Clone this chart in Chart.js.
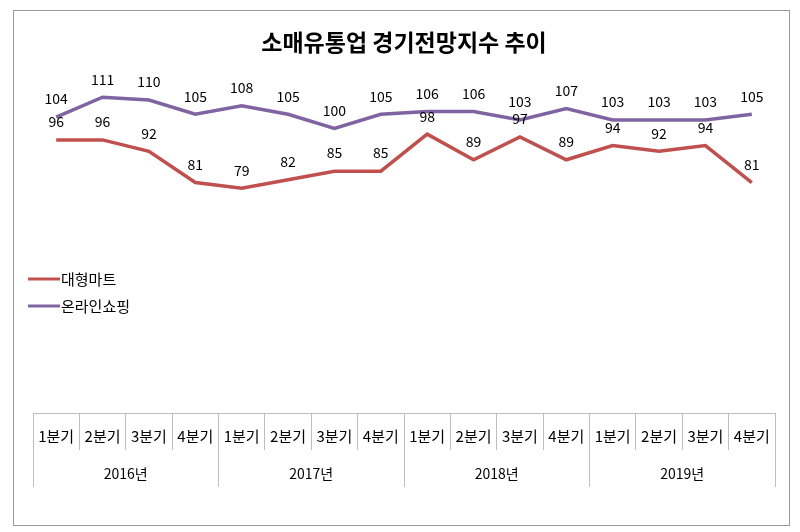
<!DOCTYPE html>
<html>
<head>
<meta charset="utf-8">
<script src="https://cdn.jsdelivr.net/npm/chart.js@4.4.0/dist/chart.umd.min.js"></script>
<style>
  html, body { margin: 0; padding: 0; background: #fff; }
  #wrap { width: 800px; height: 532px; }
</style>
</head>
<body>
<div id="wrap"><canvas id="retailChart" width="800" height="532"></canvas></div>
<script>
const quarters = ['1분기', '2분기', '3분기', '4분기', '1분기', '2분기', '3분기', '4분기',
                  '1분기', '2분기', '3분기', '4분기', '1분기', '2분기', '3분기', '4분기'];
const years = ['2016년', '2017년', '2018년', '2019년'];
const martValues = [96, 96, 92, 81, 79, 82, 85, 85, 98, 89, 97, 89, 94, 92, 94, 81];
const onlineValues = [104, 111, 110, 105, 108, 105, 100, 105, 106, 106, 103, 107, 103, 103, 103, 105];

const FONT = '"Noto Sans CJK KR", "Noto Sans", sans-serif';

// outer frame around the whole chart
const framePlugin = {
    id: 'frame',
    beforeDraw(chart) {
        const c = chart.ctx;
        c.save();
        c.strokeStyle = '#9a9a9a';
        c.lineWidth = 1;
        c.strokeRect(13.5, 10.5, 776, 515);
        c.restore();
    }
};

// value labels above each point
const valueLabels = {
    id: 'valueLabels',
    afterDatasetsDraw(chart) {
        const c = chart.ctx;
        c.save();
        c.font = '14px ' + FONT;
        c.fillStyle = '#000';
        c.textAlign = 'center';
        c.textBaseline = 'middle';
        chart.data.datasets.forEach((ds, i) => {
            chart.getDatasetMeta(i).data.forEach((pt, j) => {
                c.fillText(ds.data[j], pt.x, pt.y - 18);
            });
        });
        c.restore();
    }
};

// legend on the left, drawn over the plot like the original
const sideLegend = {
    id: 'sideLegend',
    afterDraw(chart) {
        const c = chart.ctx;
        c.save();
        c.font = '15px ' + FONT;
        c.textBaseline = 'middle';
        chart.data.datasets.forEach((ds, i) => {
            const y = 279 + i * 27;
            c.strokeStyle = ds.borderColor;
            c.lineWidth = 3;
            c.beginPath();
            c.moveTo(28, y);
            c.lineTo(60, y);
            c.stroke();
            c.fillStyle = '#000';
            c.fillText(ds.label, 61, y);
        });
        c.restore();
    }
};

const ctx = document.getElementById('retailChart').getContext('2d');
const chart = new Chart(ctx, {
    type: 'line',
    data: {
        labels: quarters,
        datasets: [{
            label: '대형마트',
            data: martValues,
            borderColor: '#C0504D',
            borderWidth: 3.5,
            pointRadius: 0,
            tension: 0
        }, {
            label: '온라인쇼핑',
            data: onlineValues,
            borderColor: '#8064A2',
            borderWidth: 3.5,
            pointRadius: 0,
            tension: 0
        }]
    },
    options: {
        responsive: false,
        animation: false,
        layout: { padding: { top: 28, left: 33, right: 25, bottom: 22 } },
        plugins: {
            legend: { display: false },
            tooltip: { enabled: false },
            title: {
                display: true,
                text: '소매유통업 경기전망지수 추이',
                color: '#000',
                font: { family: FONT, size: 23, weight: 'bold', lineHeight: 1.2 },
                padding: { top: 0, bottom: 16 }
            }
        },
        scales: {
            y: { display: false, min: 0, max: 120 },
            x: {
                position: 'bottom',
                offset: true,
                grid: { offset: true, drawOnChartArea: false, tickLength: 37, color: '#bdbdbd', lineWidth: 1 },
                border: { display: true, color: '#bdbdbd', width: 1 },
                ticks: { color: '#000', font: { family: FONT, size: 15 }, padding: -23, maxRotation: 0, autoSkip: false },
                afterFit: (scale) => { scale.height = 37; }
            },
            x2: {
                type: 'category',
                position: 'bottom',
                labels: years,
                offset: true,
                grid: { offset: true, drawOnChartArea: false, tickLength: 37, color: '#bdbdbd', lineWidth: 1 },
                border: { display: false },
                ticks: { color: '#000', font: { family: FONT, size: 14 }, padding: -22, maxRotation: 0, autoSkip: false },
                afterFit: (scale) => { scale.height = 60; }
            }
        }
    },
    plugins: [framePlugin, valueLabels, sideLegend]
});
</script>
</body>
</html>
